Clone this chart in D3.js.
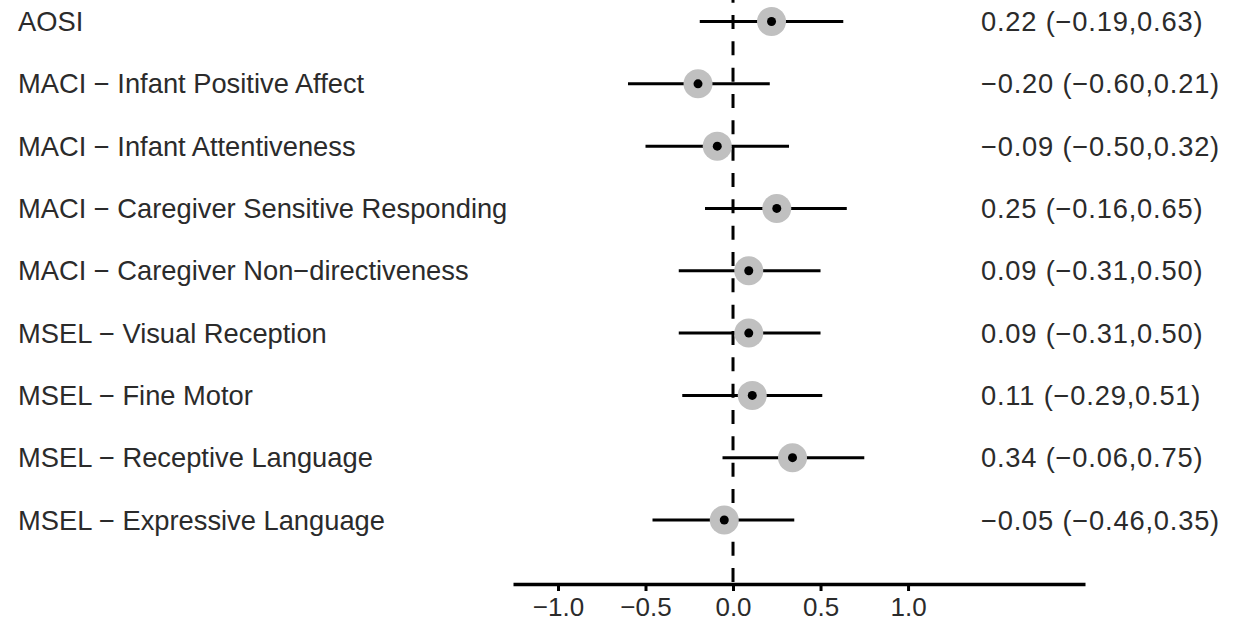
<!DOCTYPE html>
<html>
<head>
<meta charset="utf-8">
<script src="https://cdn.jsdelivr.net/npm/d3@7"></script>
<style>
  html, body { margin: 0; padding: 0; background: #fff; }
  svg { display: block; }
  text { font-family: "Liberation Sans", Arial, sans-serif; fill: #2b2b2b; }
</style>
</head>
<body>
<svg id="chart" width="1251" height="623"></svg>
<script>
// Outcome measures and their estimates with 95% intervals
const measures = [
  "AOSI",
  "MACI \u2212 Infant Positive Affect",
  "MACI \u2212 Infant Attentiveness",
  "MACI \u2212 Caregiver Sensitive Responding",
  "MACI \u2212 Caregiver Non\u2212directiveness",
  "MSEL \u2212 Visual Reception",
  "MSEL \u2212 Fine Motor",
  "MSEL \u2212 Receptive Language",
  "MSEL \u2212 Expressive Language"
];
const estimates = [0.22, -0.20, -0.09, 0.25, 0.09, 0.09, 0.11, 0.34, -0.05];
const lower     = [-0.19, -0.60, -0.50, -0.16, -0.31, -0.31, -0.29, -0.06, -0.46];
const upper     = [0.63, 0.21, 0.32, 0.65, 0.50, 0.50, 0.51, 0.75, 0.35];
const tickValues = [-1.0, -0.5, 0.0, 0.5, 1.0];

const fmt = v => (v < 0 ? "\u2212" : "") + Math.abs(v).toFixed(2);
const rows = measures.map((m, i) => ({
  label: m, est: estimates[i], lo: lower[i], hi: upper[i],
  text: `${fmt(estimates[i])} (${fmt(lower[i])},${fmt(upper[i])})`
}));

const svg = d3.select("#chart");
const fontSize = 27.3;
const tickFontSize = 26;

const x = d3.scaleLinear().domain([-1.257, 2.011]).range([513, 1085]);
const y = d3.scalePoint().domain(d3.range(rows.length)).range([21.5, 520]);
const axisY = 584;

// reference line at zero
svg.append("line")
  .attr("x1", x(0)).attr("x2", x(0))
  .attr("y1", -11.3).attr("y2", axisY)
  .attr("stroke", "#000").attr("stroke-width", 3)
  .attr("stroke-dasharray", "14,12.33");

const g = svg.append("g").selectAll("g").data(rows).join("g")
  .attr("transform", (d, i) => `translate(0,${y(i)})`);

// confidence intervals
g.append("line")
  .attr("x1", d => x(d.lo)).attr("x2", d => x(d.hi))
  .attr("stroke", "#000").attr("stroke-width", 3);

// point estimates
g.append("circle").attr("cx", d => x(d.est)).attr("r", 14.5).attr("fill", "#c0c0c0");
g.append("circle").attr("cx", d => x(d.est)).attr("r", 4.5).attr("fill", "#000");

// measure names
g.append("text").attr("x", 18).attr("dy", "0.35em")
  .style("font-size", fontSize + "px").text(d => d.label);

// estimate and interval text
g.append("text").attr("x", 981).attr("dy", "0.35em")
  .style("font-size", fontSize + "px").style("letter-spacing", "0.8px")
  .text(d => d.text);

// x axis
const axis = d3.axisBottom(x).tickValues(tickValues).tickSize(7).tickSizeOuter(0)
  .tickFormat(v => (v < 0 ? "\u2212" : "") + Math.abs(v).toFixed(1));
const ax = svg.append("g").attr("transform", `translate(0,${axisY})`).call(axis);
ax.select(".domain").attr("stroke", "#000").attr("stroke-width", 3.5);
ax.selectAll(".tick line").attr("stroke", "#000").attr("stroke-width", 3);
ax.selectAll(".tick text").attr("y", 14).attr("dy", "0.71em")
  .style("font-size", tickFontSize + "px").style("font-family", "Liberation Sans, Arial, sans-serif")
  .attr("fill", "#2b2b2b");
</script>
</body>
</html>
